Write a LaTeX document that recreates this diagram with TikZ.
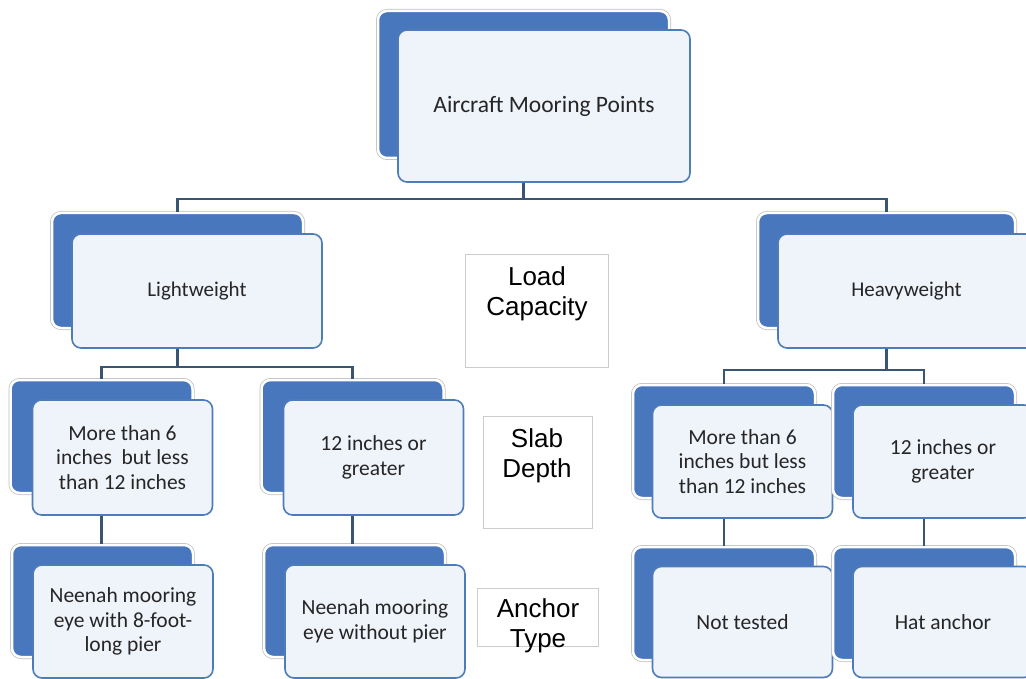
\documentclass[tikz,border=0pt]{standalone}
\usepackage{fontspec}
\setmainfont{Carlito}
\newfontfamily\tagfont{Liberation Sans}
\definecolor{backblue}{HTML}{4877BE}
\definecolor{frontfill}{HTML}{EFF3FA}
\definecolor{frontline}{HTML}{4E7CB8}
\definecolor{linkgray}{HTML}{3A5473}

\begin{document}
\begin{tikzpicture}[x=1pt,y=-1pt,
    backbox/.style={rectangle,rounded corners=9pt,fill=backblue,draw=white,line width=2.5pt,
        preaction={draw=black!25,line width=4pt},inner sep=0pt},
    frontbox/.style={rectangle,rounded corners=9pt,fill=frontfill,draw=frontline,line width=1.6pt,
        inner sep=0pt,align=center,text=black!85,font=\fontsize{21.5}{24.5}\selectfont},
    tag/.style={rectangle,draw=black!20,fill=white,line width=0.8pt,inner sep=0pt},
    tagtext/.style={align=center,inner sep=0pt,font=\tagfont\fontsize{26}{30}\selectfont},
    link/.style={draw=linkgray,line width=2.4pt}]
\useasboundingbox (0,0) rectangle (1026,679);

\node[backbox,minimum width=291,minimum height=147] (topb) at (523.5,84.5) {};
\node[frontbox,minimum width=292,minimum height=152,font=\fontsize{23.5}{28}\selectfont] (top) at (544,106) {Aircraft Mooring Points};

\node[backbox,minimum width=251,minimum height=115] (lightb) at (177.5,270.5) {};
\node[frontbox,minimum width=250,minimum height=114,font=\fontsize{21}{24.5}\selectfont] (light) at (197,291) {Lightweight};
\node[backbox,minimum width=257,minimum height=115] (heavyb) at (886.5,270.5) {};
\node[frontbox,minimum width=257,minimum height=114,font=\fontsize{21}{24.5}\selectfont] (heavy) at (906.5,291) {Heavyweight};

\node[backbox,minimum width=182,minimum height=113] (lmidb) at (101.5,436.5) {};
\node[frontbox,minimum width=180,minimum height=115] (lmid) at (122.5,457.5) {More than 6\\inches\ \ but less\\than 12 inches};
\node[backbox,minimum width=182,minimum height=113] (lbigb) at (352.5,436.5) {};
\node[frontbox,minimum width=180,minimum height=115] (lbig) at (373.5,457.5) {12 inches or\\greater};
\node[backbox,minimum width=182,minimum height=113] (rmidb) at (724,441.5) {};
\node[frontbox,minimum width=180,minimum height=113] (rmid) at (742.5,461.5) {More than 6\\inches but less\\than 12 inches};
\node[backbox,minimum width=182,minimum height=113] (rbigb) at (924,441.5) {};
\node[frontbox,minimum width=180,minimum height=113] (rbig) at (943,461.5) {12 inches or\\greater};

\node[backbox,minimum width=181,minimum height=112] (lpierb) at (102.5,601) {};
\node[frontbox,minimum width=180,minimum height=113] (lpier) at (123,621.5) {Neenah mooring\\eye with 8-foot-\\long pier};
\node[backbox,minimum width=181,minimum height=112] (lnopierb) at (354.5,601) {};
\node[frontbox,minimum width=180,minimum height=113] (lnopier) at (375,621.5) {Neenah mooring\\eye without pier};
\node[backbox,minimum width=182,minimum height=113] (rnotb) at (724,603.5) {};
\node[frontbox,minimum width=180,minimum height=111] (rnot) at (742.5,622) {Not tested};
\node[backbox,minimum width=182,minimum height=113] (rhatb) at (924,603.5) {};
\node[frontbox,minimum width=180,minimum height=111] (rhat) at (943,622) {Hat anchor};

\node[tag,minimum width=143,minimum height=113] (loadb) at (536.5,310.5) {};
\node[tagtext] (load) at (537,294) {Load\\Capacity};
\node[tag,minimum width=109,minimum height=112] (slabb) at (537.5,472) {};
\node[tagtext] (slab) at (537,456) {Slab\\Depth};
\node[tag,minimum width=121,minimum height=58] (anchorb) at (537.5,617) {};
\node[tagtext] (anchor) at (538,626) {Anchor\\Type};

\draw[link] (topb.south |- top.south) -- ++(0,16) coordinate (topbus);
\draw[link] (topbus) -| (lightb.north);
\draw[link] (topbus) -| (heavyb.north);
\draw[link] (lightb.south |- light.south) -- ++(0,18) coordinate (lightbus);
\draw[link] (lightbus) -| (lmidb.north);
\draw[link] (lightbus) -| (lbigb.north);
\draw[link] (heavyb.south |- heavy.south) -- ++(0,21) coordinate (heavybus);
\draw[link] (heavybus) -| (rmidb.north);
\draw[link] (heavybus) -| (rbigb.north);
\draw[link] (lmidb.south |- lmid.south) -- (lmidb.south |- lpierb.north);
\draw[link] (lbigb.south |- lbig.south) -- (lbigb.south |- lnopierb.north);
\draw[link] (rmidb.south |- rmid.south) -- (rmidb.south |- rnotb.north);
\draw[link] (rbigb.south |- rbig.south) -- (rbigb.south |- rhatb.north);
\end{tikzpicture}
\end{document}
